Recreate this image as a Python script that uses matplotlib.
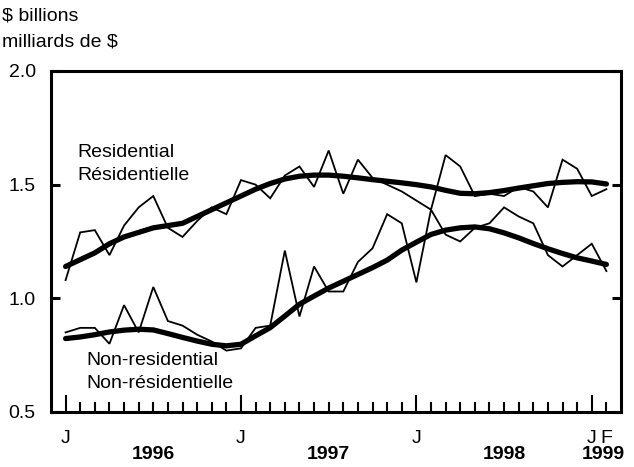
import numpy as np
import matplotlib
matplotlib.use("Agg")
import matplotlib.pyplot as plt
import matplotlib.transforms as mtransforms

plt.rcParams["font.family"] = ["Liberation Sans", "DejaVu Sans"]
plt.rcParams["font.size"] = 14

# Monthly values, Jan 1996 .. Feb 1999 ($ billions)
months = np.arange(38)
res_raw = [1.08, 1.29, 1.30, 1.19, 1.32, 1.40, 1.45, 1.31, 1.27, 1.34,
           1.40, 1.37, 1.52, 1.50, 1.44, 1.54, 1.58, 1.49, 1.65, 1.46,
           1.61, 1.53, 1.50, 1.47, 1.43, 1.39, 1.63, 1.58, 1.45, 1.46,
           1.45, 1.49, 1.47, 1.40, 1.61, 1.57, 1.45, 1.48]
res_trend = [1.14, 1.17, 1.20, 1.24, 1.27, 1.29, 1.31, 1.32, 1.33, 1.36,
             1.39, 1.42, 1.45, 1.48, 1.505, 1.525, 1.537, 1.542, 1.542, 1.537,
             1.53, 1.522, 1.515, 1.508, 1.50, 1.49, 1.475, 1.462, 1.46, 1.465,
             1.474, 1.485, 1.495, 1.505, 1.51, 1.513, 1.512, 1.503]
nonres_raw = [0.85, 0.87, 0.87, 0.80, 0.97, 0.85, 1.05, 0.90, 0.88, 0.84,
              0.81, 0.77, 0.78, 0.87, 0.88, 1.21, 0.92, 1.14, 1.03, 1.03,
              1.16, 1.22, 1.37, 1.33, 1.07, 1.39, 1.28, 1.25, 1.31, 1.33,
              1.40, 1.36, 1.33, 1.19, 1.14, 1.19, 1.24, 1.12]
nonres_trend = [0.823, 0.83, 0.84, 0.852, 0.86, 0.864, 0.861, 0.845, 0.828, 0.812,
                0.798, 0.791, 0.798, 0.835, 0.871, 0.922, 0.974, 1.01, 1.045, 1.075,
                1.105, 1.135, 1.168, 1.212, 1.247, 1.281, 1.30, 1.31, 1.314, 1.306,
                1.288, 1.266, 1.241, 1.218, 1.197, 1.178, 1.164, 1.149]

jan_pos = [0, 12, 24, 36]
jan_labels = ["J", "J", "J", "J"]
year_pos = [6, 18, 30, 36.8]
year_labels = ["1996", "1997", "1998", "1999"]
yticks = [0.5, 1.0, 1.5, 2.0]

fig = plt.figure(figsize=(6.34, 4.67), dpi=100)
ax = fig.add_axes([0.0804, 0.1178, 0.8991, 0.7302])

ax.plot(months, res_raw, color="black", lw=1.3, solid_joinstyle="miter")
ax.plot(months, res_trend, color="black", lw=3.8, solid_capstyle="round")
ax.plot(months, nonres_raw, color="black", lw=1.3, solid_joinstyle="miter")
ax.plot(months, nonres_trend, color="black", lw=3.8, solid_capstyle="round")

ax.set_xlim(-1, 38)
ax.set_ylim(0.5, 2.0)

for s in ax.spines.values():
    s.set_linewidth(2.2)

ax.set_yticks(yticks)
ax.set_yticklabels([f"{v:.1f}" for v in yticks])
ax.tick_params(axis="y", direction="in", length=6.5, width=2.2, right=True,
               pad=11)

ax.set_xticks(jan_pos)
ax.set_xticklabels(jan_labels)
ax.set_xticks(months, minor=True)
ax.set_xticklabels(["F" if m == 37 else "" for m in months], minor=True)
ax.tick_params(axis="x", which="major", direction="in", length=12, width=1.5,
               pad=13)
ax.tick_params(axis="x", which="minor", direction="in", length=7, width=1.5,
               pad=13)

trans = mtransforms.blended_transform_factory(ax.transData, ax.transAxes)
for p, lab in zip(year_pos, year_labels):
    ax.text(p, -0.1, lab, transform=trans, ha="center", va="top",
            fontweight="bold")

ax.text(0.8, 1.68, "Residential\nRésidentielle", ha="left", va="top",
        linespacing=1.45)
ax.text(1.4, 0.765, "Non-residential\nNon-résidentielle", ha="left",
        va="top", linespacing=1.45)

fig.text(0.003, 0.985, "\$ billions", ha="left", va="top")
fig.text(0.003, 0.928, "milliards de \$", ha="left", va="top")

fig.savefig("out.png", dpi=100)
